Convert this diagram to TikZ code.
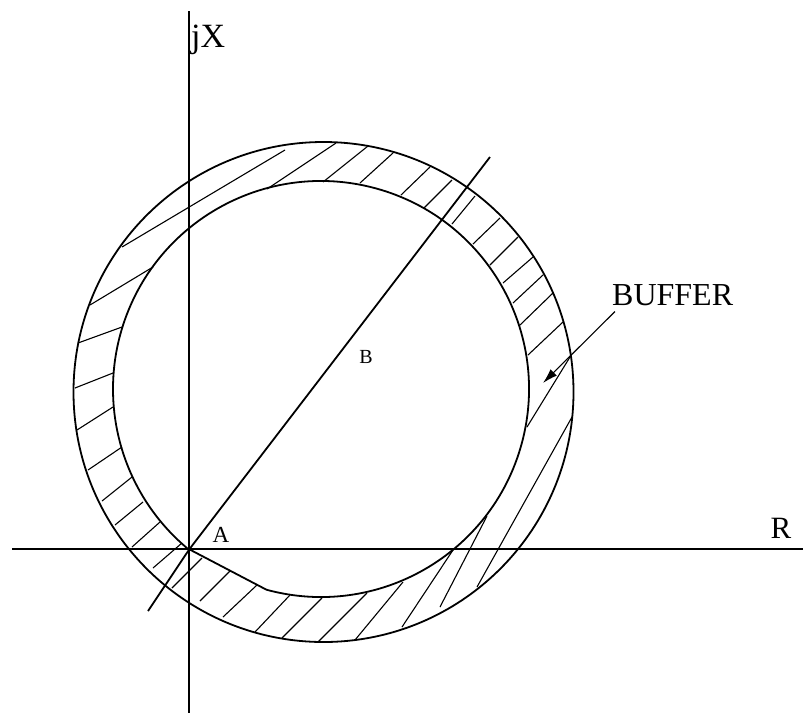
\documentclass[tikz,border=0pt]{standalone}
\usepackage{fontspec}
\setmainfont{Liberation Serif}
\usetikzlibrary{arrows.meta,calc}
\tikzset{
  axis/.style    = {line width=1.8pt},
  rim/.style     = {line width=1.8pt},
  hatch/.style   = {line width=1.1pt},
  lbl/.style     = {inner sep=0pt, anchor=base},
  pointer/.style = {-{Latex[length=15pt,width=9pt]}, line width=1.1pt},
}

\begin{document}
\begin{tikzpicture}[x=1pt,y=-1pt]
  \useasboundingbox (0,0) rectangle (803,713);
  \coordinate (A)  at (189.3,549.3);
  \coordinate (co) at (323.5,392);
  \coordinate (ci) at (321,389);
  % hatching of the buffer ring
  \foreach \xa/\ya/\xb/\yb in {122/247/285/150, 90/305/153/267, 78/343/122/327, 75/388/113/373,
      77/430/113/407, 88/470/122/447, 102/501/132/477, 115/525/143/502, 132/547/160/522,
      153/568/182/543, 172/588/202/558, 200/601/230/571, 223/617/257/585, 255/632/290/595,
      282/638/322/598, 318/642/367/593, 355/640/403/582, 402/627/453/550, 440/607/487/516,
      477/587/572/417, 527/427/570/357, 528/355/563/322, 520/325/553/293, 513/303/543/275,
      503/283/533/257, 490/265/518/237, 473/244/500/218, 452/224/475/196, 424/208/452/180,
      401/195/430/167, 360/183/393/153, 323/182/368/146, 267/189/336/143}
    \draw[hatch] (\xa,\ya) -- (\xb,\yb);
  % circles
  \draw[rim] (co) circle[radius=250];
  \draw[rim] (A) -- ($(ci)+(105.2:208)$) arc[start angle=105.2, end angle=-230.6, radius=208] -- cycle;
  % axes and line AB
  \draw[axis] (12,549.3) -- (A) -- (803,549.3);
  \draw[axis] (189.3,11) -- (A) -- (189.3,713);
  \draw[rim] (148,611) -- (A) -- (490,157);
  % labels
  \node[lbl, anchor=base west, font=\fontsize{34}{40}\selectfont] (jx) at (191,47) {jX};
  \node[lbl, font=\fontsize{31}{36}\selectfont] (r) at (781,538.3) {R};
  \node[lbl, font=\fontsize{23}{28}\selectfont] (a) at (221,542) {A};
  \node[lbl, font=\fontsize{20}{24}\selectfont] (b) at (366,363) {B};
  \node[lbl, anchor=base west, font=\fontsize{32}{38}\selectfont] (buf) at (612,305) {BUFFER};
  \coordinate (buftip) at (543,383);
  \draw[pointer] ([xshift=3pt,yshift=-6pt]buf.south west) -- (buftip);
\end{tikzpicture}
\end{document}
